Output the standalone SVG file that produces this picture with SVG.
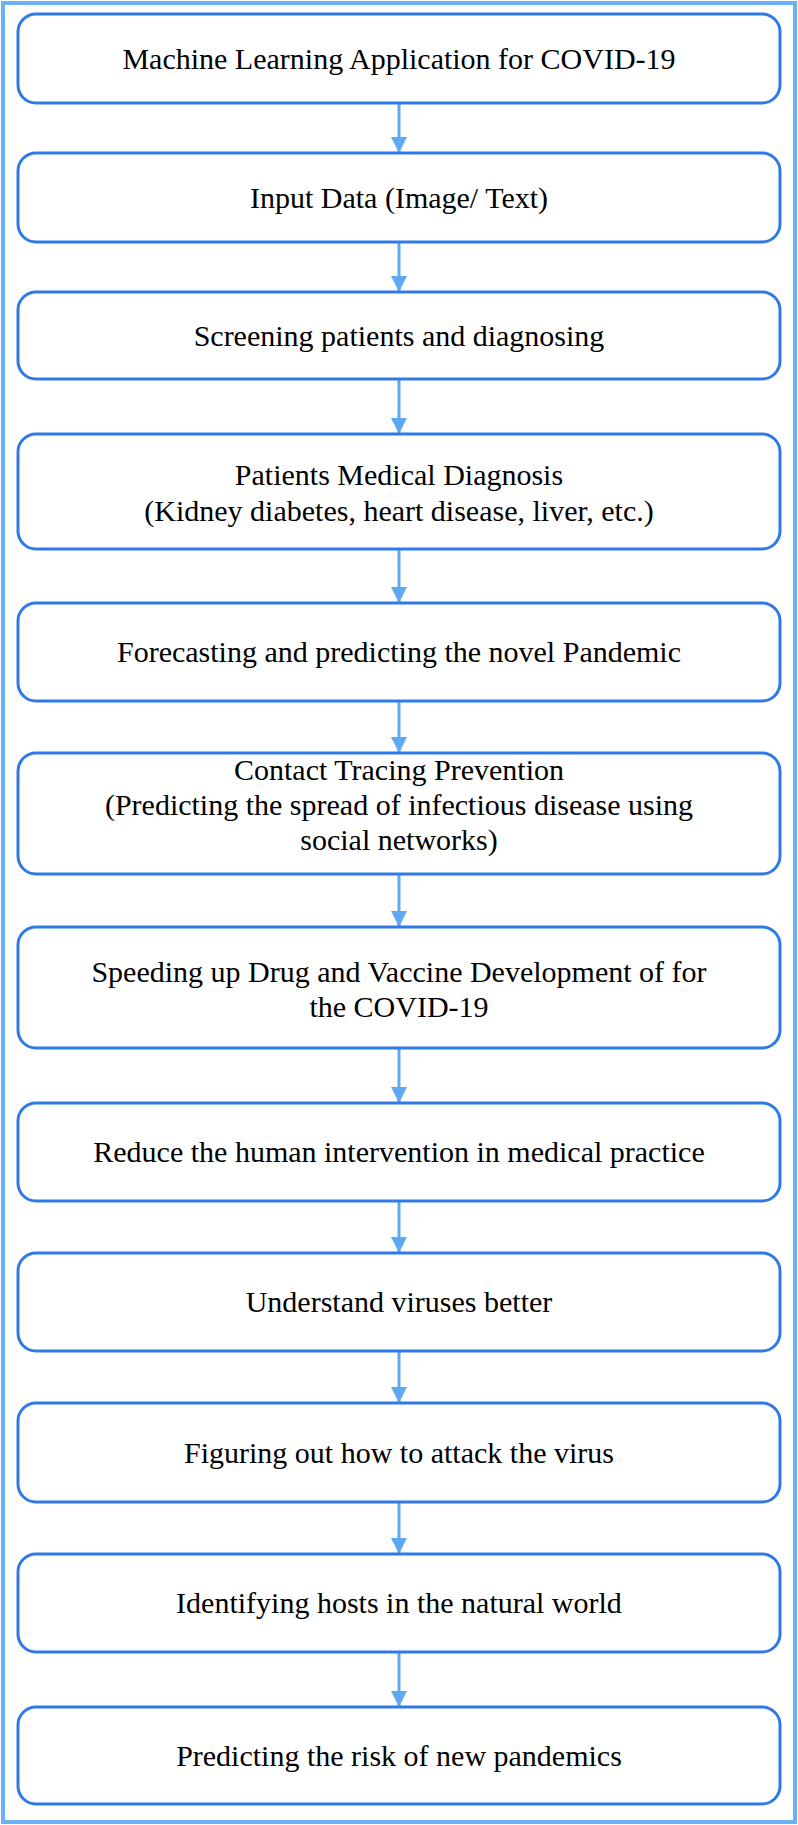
<svg xmlns="http://www.w3.org/2000/svg" width="798" height="1825" viewBox="0 0 798 1825">
<defs><style>
.b{fill:#fff;stroke:#2f7ae6;stroke-width:3}
.t{font-size:30px;fill:#000;text-anchor:middle}
</style>
</defs>
<rect width="798" height="1825" fill="#fff"/>
<rect x="3" y="3" width="792" height="1819" fill="none" stroke="#6ab2f5" stroke-width="4"/>
<g id="connectors">
<path d="M399 103V153M399 242V292M399 379V434M399 549V603M399 701V753M399 874V927M399 1048V1103M399 1201V1253M399 1351V1403M399 1502V1554M399 1652V1707" stroke="#5eaaf2" stroke-width="3"/>
<g fill="#5eaaf2">
<path d="M391 137L407 137L399 153z"/><path d="M391 276L407 276L399 292z"/><path d="M391 418L407 418L399 434z"/><path d="M391 587L407 587L399 603z"/><path d="M391 737L407 737L399 753z"/><path d="M391 911L407 911L399 927z"/><path d="M391 1087L407 1087L399 1103z"/><path d="M391 1237L407 1237L399 1253z"/><path d="M391 1387L407 1387L399 1403z"/><path d="M391 1538L407 1538L399 1554z"/><path d="M391 1691L407 1691L399 1707z"/>
</g>
</g>
<g font-family="'Liberation Serif', 'Times New Roman', serif">
<g id="n1"><rect class="b" x="18" y="14" width="762" height="89" rx="18"/><text class="t" x="399" y="69">Machine Learning Application for COVID-19</text></g>
<g id="n2"><rect class="b" x="18" y="153" width="762" height="89" rx="18"/><text class="t" x="399" y="208">Input Data (Image/ Text)</text></g>
<g id="n3"><rect class="b" x="18" y="292" width="762" height="87" rx="18"/><text class="t" x="399" y="346">Screening patients and diagnosing</text></g>
<g id="n4"><rect class="b" x="18" y="434" width="762" height="115" rx="18"/><text class="t" x="399" y="485">Patients Medical Diagnosis</text><text class="t" x="399" y="521">(Kidney diabetes, heart disease, liver, etc.)</text></g>
<g id="n5"><rect class="b" x="18" y="603" width="762" height="98" rx="18"/><text class="t" x="399" y="662">Forecasting and predicting the novel Pandemic</text></g>
<g id="n6"><rect class="b" x="18" y="753" width="762" height="121" rx="18"/><text class="t" x="399" y="780">Contact Tracing Prevention</text><text class="t" x="399" y="815">(Predicting the spread of infectious disease using</text><text class="t" x="399" y="850">social networks)</text></g>
<g id="n7"><rect class="b" x="18" y="927" width="762" height="121" rx="18"/><text class="t" x="399" y="982">Speeding up Drug and Vaccine Development of for</text><text class="t" x="399" y="1017">the COVID-19</text></g>
<g id="n8"><rect class="b" x="18" y="1103" width="762" height="98" rx="18"/><text class="t" x="399" y="1162">Reduce the human intervention in medical practice</text></g>
<g id="n9"><rect class="b" x="18" y="1253" width="762" height="98" rx="18"/><text class="t" x="399" y="1312">Understand viruses better</text></g>
<g id="n10"><rect class="b" x="18" y="1403" width="762" height="99" rx="18"/><text class="t" x="399" y="1463">Figuring out how to attack the virus</text></g>
<g id="n11"><rect class="b" x="18" y="1554" width="762" height="98" rx="18"/><text class="t" x="399" y="1613">Identifying hosts in the natural world</text></g>
<g id="n12"><rect class="b" x="18" y="1707" width="762" height="97" rx="18"/><text class="t" x="399" y="1766">Predicting the risk of new pandemics</text></g>
</g>
</svg>
